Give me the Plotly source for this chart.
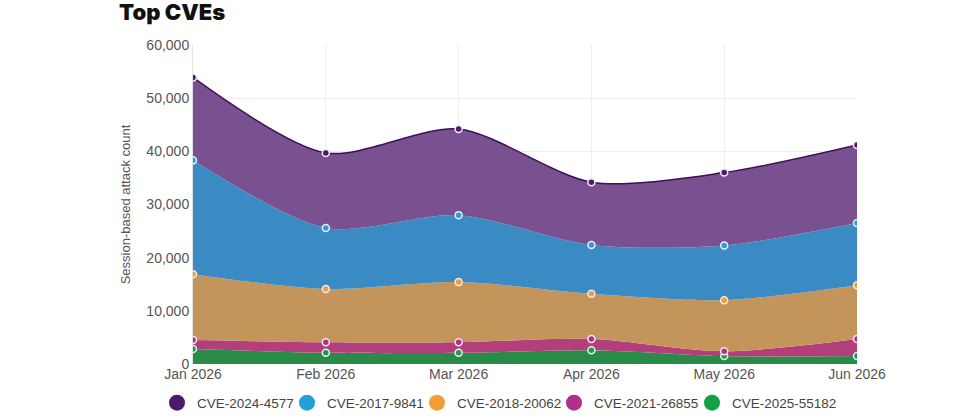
import plotly.graph_objects as go

months = ["Jan 2026", "Feb 2026", "Mar 2026", "Apr 2026", "May 2026", "Jun 2026"]
cve_names = ["CVE-2025-55182", "CVE-2021-26855", "CVE-2018-20062", "CVE-2017-9841", "CVE-2024-4577"]
green_vals = [2800, 2100, 2100, 2600, 1500, 1500]
magenta_vals = [1700, 2000, 2000, 2100, 900, 3200]
orange_vals = [12400, 10000, 11300, 8500, 9600, 10100]
blue_vals = [21400, 11500, 12600, 9200, 10300, 11700]
purple_vals = [15600, 14100, 16200, 11800, 13700, 14700]

series = [green_vals, magenta_vals, orange_vals, blue_vals, purple_vals]
fills = ["#2a8a48", "#b23f7c", "#c4955a", "#3a8bc4", "#7a5190"]
dots = ["#12a045", "#b02f8a", "#f29d35", "#22a0d8", "#4a1a6e"]

# left edge (px) of each legend entry, top series first
legend_px = [157, 287, 417, 554, 692]


def main():
    fig = go.Figure()
    for name, vals, fc, dc in zip(cve_names, series, fills, dots):
        top = name == "CVE-2024-4577"
        fig.add_trace(go.Scatter(
            x=months, y=vals, name=name, stackgroup="one", showlegend=False,
            mode="lines+markers", fillcolor=fc,
            line=dict(shape="spline", smoothing=0.8, width=1.5 if top else 0,
                      color="#3a1257" if top else fc),
            marker=dict(size=7, color=dc, line=dict(color="#f4e8f4", width=1.5)),
        ))

    # one small legend per entry so they sit in a single row like the original
    legends = {}
    for i, (name, dc) in enumerate(zip(reversed(cve_names), reversed(dots))):
        key = "legend" if i == 0 else "legend%d" % (i + 1)
        fig.add_trace(go.Scatter(x=[None], y=[None], mode="markers", name=name, legend=key,
                                 marker=dict(size=17, color=dc)))
        legends[key] = dict(orientation="h", x=(legend_px[i] - 193) / 664, xanchor="left",
                            y=-0.122, yanchor="middle", itemsizing="trace", itemwidth=30,
                            bgcolor="rgba(0,0,0,0)", font=dict(size=13.5, color="#444"))

    fig.update_layout(
        width=960, height=420,
        paper_bgcolor="white", plot_bgcolor="white",
        font=dict(family="Liberation Sans, Arial, sans-serif", size=14, color="#555"),
        title=dict(text="Top CVEs", x=0.124, xanchor="left", y=0.971, yanchor="middle",
                   pad=dict(l=0, t=0),
                   font=dict(family="Inter, sans-serif", size=22, weight=900, color="#111")),
        margin=dict(l=193, r=103, t=45, b=56, autoexpand=False),
        showlegend=True,
        hovermode="x",
        **legends,
    )
    fig.update_xaxes(showgrid=True, gridcolor="#eeeeee", showline=False, ticks="",
                     tickfont=dict(size=14, color="#555"))
    fig.update_yaxes(range=[0, 60000], dtick=10000, tickformat=",", showgrid=True,
                     gridcolor="#eeeeee", zeroline=False, showline=True, linecolor="#e2e2e2",
                     title=dict(text="Session-based attack count", font=dict(size=13, color="#555"),
                                standoff=12),
                     tickfont=dict(size=14, color="#555"))
    # drop the browser's default page margin so the figure sits at the window corner
    fig.write_html("out.html", config={"displayModeBar": False},
                   post_script="document.body.style.margin='0';")


main()
